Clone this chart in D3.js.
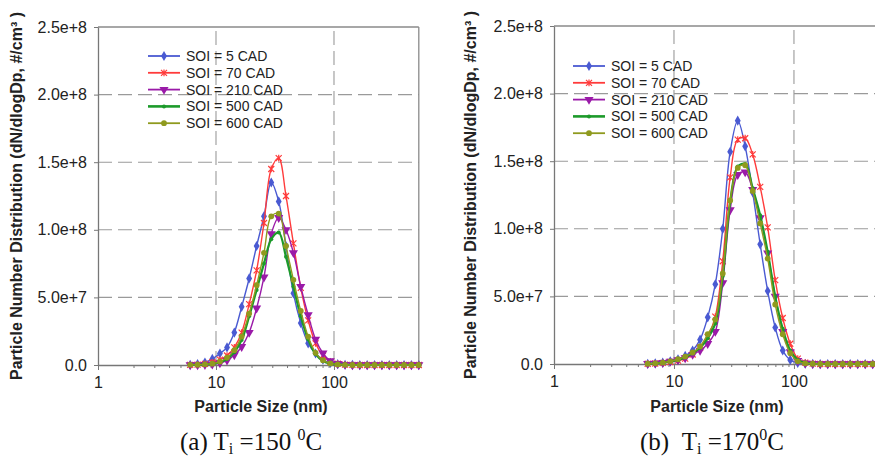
<!DOCTYPE html>
<html>
<head>
<meta charset="utf-8">
<script src="https://cdn.jsdelivr.net/npm/d3@7"></script>
<style>
  body { margin: 0; background: #fff; }
  svg { display: block; }
</style>
</head>
<body>
<svg id="chart" width="875" height="456"></svg>
<script>
// Particle size channels (nm), 16 per decade
const sizes = [6.04, 6.98, 8.06, 9.31, 10.8, 12.4, 14.3, 16.5, 19.1, 22.1, 25.5, 29.4,
  34.0, 39.2, 45.3, 52.3, 60.4, 69.8, 80.6, 93.1, 107.5, 124.1, 143.3, 165.5,
  191.1, 220.7, 254.8, 294.3, 339.8, 392.4, 453.2, 523.3];

const seriesLabels = ["SOI = 5 CAD", "SOI = 70 CAD", "SOI = 210 CAD", "SOI = 500 CAD", "SOI = 600 CAD"];

const yTicks = [0, 5e7, 1e8, 1.5e8, 2e8, 2.5e8];
const yTickLabels = ["0.0", "5.0e+7", "1.0e+8", "1.5e+8", "2.0e+8", "2.5e+8"];
const xTicks = [1, 10, 100];
const xTickLabels = ["1", "10", "100"];

// dN/dlogDp in millions of particles per cm³ — intake temperature 150 °C
const soi5_a   = [0.2, 0.6, 1.8, 4.5, 8.5, 13, 24, 43, 64, 88, 110, 135, 121, 88, 53, 31, 16, 8.5, 4, 1.5, 0.6, 0.2, 0.1, 0, 0, 0, 0, 0, 0, 0, 0, 0];
const soi70_a  = [0.1, 0.3, 0.8, 2, 4, 7, 13, 24, 45, 70, 105, 145, 153, 125, 90, 57, 33, 16, 7, 2.5, 1, 0.3, 0.1, 0, 0, 0, 0, 0, 0, 0, 0, 0];
const soi210_a = [0.05, 0.1, 0.2, 0.6, 1.5, 3.5, 7.4, 13.5, 24, 42, 65, 97, 109, 100, 83, 58, 37, 19, 8.7, 3, 1, 0.3, 0.1, 0, 0, 0, 0, 0, 0, 0, 0, 0];
const soi500_a = [0.1, 0.2, 0.4, 0.8, 2, 4.5, 9.5, 18.5, 36, 55.5, 75, 93, 98, 80, 58, 36, 19, 8, 3, 1, 0.4, 0.1, 0, 0, 0, 0, 0, 0, 0, 0, 0, 0];
const soi600_a = [0.1, 0.2, 0.5, 1, 2.5, 5.5, 11, 21, 38, 59, 83, 110, 112, 88, 63, 40, 21, 9, 3.5, 1.2, 0.4, 0.1, 0, 0, 0, 0, 0, 0, 0, 0, 0, 0];

// dN/dlogDp in millions of particles per cm³ — intake temperature 170 °C
const soi5_b   = [0.2, 0.5, 1, 2, 3.5, 6, 10, 18, 34.5, 59, 100, 157, 180, 161, 127, 88.5, 54, 27, 10, 3, 0.8, 0.2, 0.1, 0, 0, 0, 0, 0, 0, 0, 0, 0];
const soi70_b  = [0.2, 0.4, 0.8, 1.5, 2.5, 4, 7, 12, 20, 35, 76, 138, 166, 167, 155, 131, 101, 62, 34, 15, 4, 1, 0.3, 0, 0, 0, 0, 0, 0, 0, 0, 0];
const soi210_b = [0.2, 0.5, 1, 2, 3, 4.5, 7, 10, 15, 24, 60, 114, 140, 142, 129, 108, 82, 50, 24, 9, 2.5, 0.6, 0.2, 0, 0, 0, 0, 0, 0, 0, 0, 0];
const soi500_b = [0.2, 0.5, 1, 2, 3, 5, 8, 12, 19, 30, 65, 120, 146, 148, 130, 110, 83, 50, 26, 10, 3, 0.8, 0.2, 0, 0, 0, 0, 0, 0, 0, 0, 0];
const soi600_b = [0.2, 0.5, 1, 2, 3.5, 5.5, 8.5, 13, 22, 33, 67, 121, 145, 147, 128, 104, 78, 44, 22, 8, 2, 0.5, 0.2, 0, 0, 0, 0, 0, 0, 0, 0, 0];

const colors = ["#4a5ad2", "#ff3b3b", "#9a1aa8", "#1c9a2a", "#8f9a1e"];
const markerKinds = ["diamond", "star", "triangleDown", "dot", "circle"];
const lineWidths = [1.4, 1.4, 1.4, 2.2, 1.4];

const svg = d3.select("#chart");
const FONT = "'Liberation Sans', Arial, sans-serif";
const SERIF = "'Liberation Serif', 'Times New Roman', serif";

function drawMarker(g, kind, color, x, y) {
  if (kind === "diamond") {
    g.append("path").attr("d", d3.symbol(d3.symbolDiamond, 30)())
      .attr("transform", `translate(${x},${y})`).attr("fill", color);
  } else if (kind === "star") {
    g.append("path").attr("d", "M-3,-3L3,3M-3,3L3,-3M0,-3.4L0,3.4")
      .attr("transform", `translate(${x},${y})`).attr("stroke", color)
      .attr("stroke-width", 1.2).attr("fill", "none");
  } else if (kind === "triangleDown") {
    g.append("path").attr("d", d3.symbol(d3.symbolTriangle, 36)())
      .attr("transform", `translate(${x},${y}) rotate(180)`).attr("fill", color);
  } else if (kind === "dot") {
    g.append("circle").attr("cx", x).attr("cy", y).attr("r", 2).attr("fill", color);
  } else {
    g.append("circle").attr("cx", x).attr("cy", y).attr("r", 2.9).attr("fill", color);
  }
}

function drawPanel(cfg) {
  const g = svg.append("g");
  const x = d3.scaleLog().domain([1, sizes[sizes.length - 1]]).range([cfg.left, cfg.right]);
  const y = d3.scaleLinear().domain([0, 2.5e8]).range([cfg.bottom, cfg.top]);

  // dashed gridlines
  g.append("g").selectAll("line").data(yTicks.filter(v => v > 0 && v < 2.5e8)).join("line")
    .attr("x1", cfg.left).attr("x2", cfg.right)
    .attr("y1", d => y(d)).attr("y2", d => y(d))
    .attr("stroke", "#9a9a9a").attr("stroke-width", 1.1).attr("stroke-dasharray", "14,6");
  g.append("g").selectAll("line").data([10, 100]).join("line")
    .attr("x1", d => x(d)).attr("x2", d => x(d))
    .attr("y1", cfg.bottom).attr("y2", cfg.top)
    .attr("stroke", "#9a9a9a").attr("stroke-width", 1.1).attr("stroke-dasharray", "14,6");

  // frame: top and right borders
  g.append("line").attr("x1", cfg.left).attr("x2", cfg.right).attr("y1", cfg.top).attr("y2", cfg.top)
    .attr("stroke", "#8a8a8a").attr("stroke-width", 1.3);
  g.append("line").attr("x1", cfg.right).attr("x2", cfg.right).attr("y1", cfg.top).attr("y2", cfg.bottom)
    .attr("stroke", "#8a8a8a").attr("stroke-width", 1.3);

  // y axis
  const yAxis = d3.axisLeft(y).tickValues(yTicks).tickSize(4).tickSizeOuter(0).tickPadding(7)
    .tickFormat((d, i) => yTickLabels[i]);
  const ya = g.append("g").attr("transform", `translate(${cfg.left},0)`).call(yAxis);
  ya.select(".domain").attr("stroke", "#777").attr("stroke-width", 1.3);
  ya.selectAll(".tick line").attr("stroke", "#777");
  ya.selectAll("text").attr("font-family", FONT).attr("font-size", 16).attr("fill", "#222");

  // x axis: minor ticks then major ticks with labels
  const minor = [];
  [1, 10, 100].forEach(dec => { for (let k = 2; k <= 9; k++) if (dec * k <= sizes[sizes.length - 1]) minor.push(dec * k); });
  const xMinor = d3.axisBottom(x).tickValues(minor).tickSize(3).tickSizeOuter(0).tickFormat("");
  const xm = g.append("g").attr("transform", `translate(0,${cfg.bottom})`).call(xMinor);
  xm.select(".domain").remove();
  xm.selectAll(".tick line").attr("stroke", "#777");

  const xAxis = d3.axisBottom(x).tickValues(xTicks).tickSize(5).tickSizeOuter(0).tickPadding(7)
    .tickFormat((d, i) => xTickLabels[i]);
  const xa = g.append("g").attr("transform", `translate(0,${cfg.bottom})`).call(xAxis);
  xa.select(".domain").attr("stroke", "#777").attr("stroke-width", 1.3);
  xa.selectAll(".tick line").attr("stroke", "#777");
  xa.selectAll("text").attr("font-family", FONT).attr("font-size", 16).attr("fill", "#222");

  // series lines and markers
  const line = d3.line().x(d => x(d[0])).y(d => y(d[1])).curve(d3.curveCatmullRom.alpha(0.5));
  cfg.series.forEach((vals, si) => {
    const pts = sizes.map((s, i) => [s, vals[i] * 1e6]);
    g.append("path").datum(pts).attr("d", line).attr("fill", "none")
      .attr("stroke", colors[si]).attr("stroke-width", lineWidths[si]);
    const mg = g.append("g");
    pts.forEach(p => drawMarker(mg, markerKinds[si], colors[si], x(p[0]), y(p[1])));
  });

  // legend
  const lg = g.append("g");
  seriesLabels.forEach((lab, i) => {
    const cy = cfg.legendY + i * cfg.legendStep;
    lg.append("line").attr("x1", cfg.legendX).attr("x2", cfg.legendX + 32)
      .attr("y1", cy).attr("y2", cy).attr("stroke", colors[i]).attr("stroke-width", lineWidths[i] + 0.4);
    drawMarker(lg, markerKinds[i], colors[i], cfg.legendX + 16, cy);
    lg.append("text").attr("x", cfg.legendX + 38).attr("y", cy + 5)
      .attr("font-family", FONT).attr("font-size", 14).attr("fill", "#222").text(lab);
  });

  // axis titles
  g.append("text").attr("transform", `translate(${cfg.yTitleX},${(cfg.top + cfg.bottom) / 2}) rotate(-90)`)
    .attr("text-anchor", "middle").attr("font-family", FONT).attr("font-size", 16)
    .attr("font-weight", "bold").attr("fill", "#222")
    .text("Particle Number Distribution (dN/dlogDp, #/cm³ )");
  g.append("text").attr("x", cfg.xTitleX).attr("y", 412).attr("text-anchor", "middle")
    .attr("font-family", FONT).attr("font-size", 16).attr("font-weight", "bold").attr("fill", "#222")
    .text("Particle Size (nm)");

  // panel caption
  const cap = g.append("text").attr("x", cfg.capX).attr("y", 450)
    .attr("font-family", SERIF).attr("font-size", 25).attr("fill", "#111");
  cap.append("tspan").text(cfg.capLetter + (cfg.capGap ? "\u00a0\u00a0" : " ") + "T");
  cap.append("tspan").attr("font-size", 16).attr("dy", 4).text("i");
  cap.append("tspan").attr("dy", -4).text(" =" + cfg.capTemp + (cfg.capSpace ? " " : ""));
  cap.append("tspan").attr("font-size", 16).attr("dy", -10).text("0");
  cap.append("tspan").attr("dy", 10).text("C");
}

drawPanel({
  series: [soi5_a, soi70_a, soi210_a, soi500_a, soi600_a],
  left: 98, right: 418.8, top: 27, bottom: 365,
  legendX: 148, legendY: 56, legendStep: 16.8,
  yTitleX: 22, xTitleX: 261, capX: 180, capLetter: "(a)", capTemp: "150", capSpace: true, capGap: false
});
drawPanel({
  series: [soi5_b, soi70_b, soi210_b, soi500_b, soi600_b],
  left: 554, right: 880.2, top: 26, bottom: 364,
  legendX: 573, legendY: 66, legendStep: 16.8,
  yTitleX: 476, xTitleX: 717, capX: 640, capLetter: "(b)", capTemp: "170", capSpace: false, capGap: true
});
</script>
</body>
</html>
